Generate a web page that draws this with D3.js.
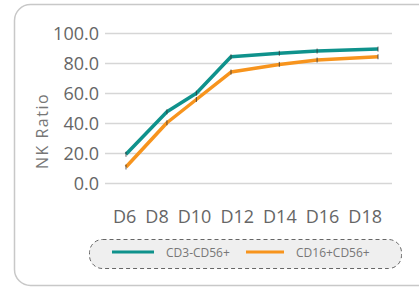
<!DOCTYPE html>
<html>
<head>
<meta charset="utf-8">
<script src="https://cdn.jsdelivr.net/npm/d3@7"></script>
<style>
  body { margin: 0; background: #fff; }
  svg { display: block; font-family: "Open Sans", "Noto Sans", sans-serif; }
</style>
</head>
<body>
<div id="chart"></div>
<script>
const width = 419;
const height = 287;

// x labels and where each sample sits along the axis (in days)
const dayLabels = ["D6", "D8", "D10", "D12", "D14", "D16", "D18"];
const sampleDay = [6, 7.95, 9.35, 11, 13.3, 15.1, 18];

const cd3Neg = [19.5, 47.8, 60.2, 84.5, 86.8, 88.3, 89.6];
const cd16Pos = [11, 40.5, 56, 74.3, 79.4, 82.3, 84.5];

const yTicks = [0, 20, 40, 60, 80, 100];

const series = [
  { name: "CD3-CD56+", values: cd3Neg, color: "#0f928c" },
  { name: "CD16+CD56+", values: cd16Pos, color: "#f7941d" }
];

const svg = d3.select("#chart").append("svg")
  .attr("width", width)
  .attr("height", height);

// outer rounded frame
svg.append("rect")
  .attr("x", 14.5).attr("y", 4.5)
  .attr("width", 420).attr("height", 281)
  .attr("rx", 16)
  .attr("fill", "#fff")
  .attr("stroke", "#c8c8c8")
  .attr("stroke-width", 1.5);

const x = d3.scaleLinear().domain([6, 18]).range([126, 378]);
const y = d3.scaleLinear().domain([0, 100]).range([183.5, 33.5]);

// gridlines
svg.append("g")
  .selectAll("line")
  .data(yTicks)
  .join("line")
  .attr("x1", 105).attr("x2", 392)
  .attr("y1", d => y(d)).attr("y2", d => y(d))
  .attr("stroke", "#d6d6d6")
  .attr("stroke-width", 1.6);

// y tick labels
svg.append("g")
  .selectAll("text")
  .data(yTicks)
  .join("text")
  .attr("x", 99)
  .attr("y", d => y(d) + 6.5)
  .attr("text-anchor", "end")
  .attr("font-size", 18)
  .attr("fill", "#666")
  .text(d => d.toFixed(1));

// y title
svg.append("text")
  .attr("transform", "translate(48,131) rotate(-90)")
  .attr("text-anchor", "middle")
  .attr("font-size", 16)
  .attr("letter-spacing", 1.5)
  .attr("fill", "#777")
  .text("NK Ratio");

// x labels laid out one after another
const xl = svg.append("g");
let cursor = 113;
dayLabels.forEach(lbl => {
  const t = xl.append("text")
    .attr("x", cursor)
    .attr("y", 223)
    .attr("font-size", 18)
    .attr("fill", "#666")
    .text(lbl);
  cursor += t.node().getComputedTextLength() + 9;
});

// lines
const line = d3.line()
  .x((d, i) => x(sampleDay[i]))
  .y(d => y(d));

series.forEach(s => {
  svg.append("path")
    .datum(s.values)
    .attr("d", line)
    .attr("fill", "none")
    .attr("stroke", s.color)
    .attr("stroke-width", 3.5)
    .attr("stroke-linejoin", "round");

  // tiny error ticks
  svg.append("g")
    .selectAll("line")
    .data(s.values)
    .join("line")
    .attr("x1", (d, i) => x(sampleDay[i]))
    .attr("x2", (d, i) => x(sampleDay[i]))
    .attr("y1", d => y(d) - 2.5)
    .attr("y2", d => y(d) + 2.5)
    .attr("stroke", "#333")
    .attr("stroke-width", 0.8);
});

// legend
const lg = svg.append("g");
lg.append("rect")
  .attr("x", 89.5).attr("y", 239.5)
  .attr("width", 312).attr("height", 29)
  .attr("rx", 13)
  .attr("fill", "#efefef")
  .attr("stroke", "#666")
  .attr("stroke-width", 1)
  .attr("stroke-dasharray", "4,3");

const legendPos = [{ lx: 112, tx: 166, w: 42 }, { lx: 246, tx: 296, w: 38 }];
series.forEach((s, i) => {
  const p = legendPos[i];
  lg.append("line")
    .attr("x1", p.lx).attr("x2", p.lx + p.w)
    .attr("y1", 252).attr("y2", 252)
    .attr("stroke", s.color)
    .attr("stroke-width", 3);
  lg.append("text")
    .attr("x", p.tx).attr("y", 257)
    .attr("font-size", 12)
    .attr("fill", "#777")
    .text(s.name);
});
</script>
</body>
</html>
